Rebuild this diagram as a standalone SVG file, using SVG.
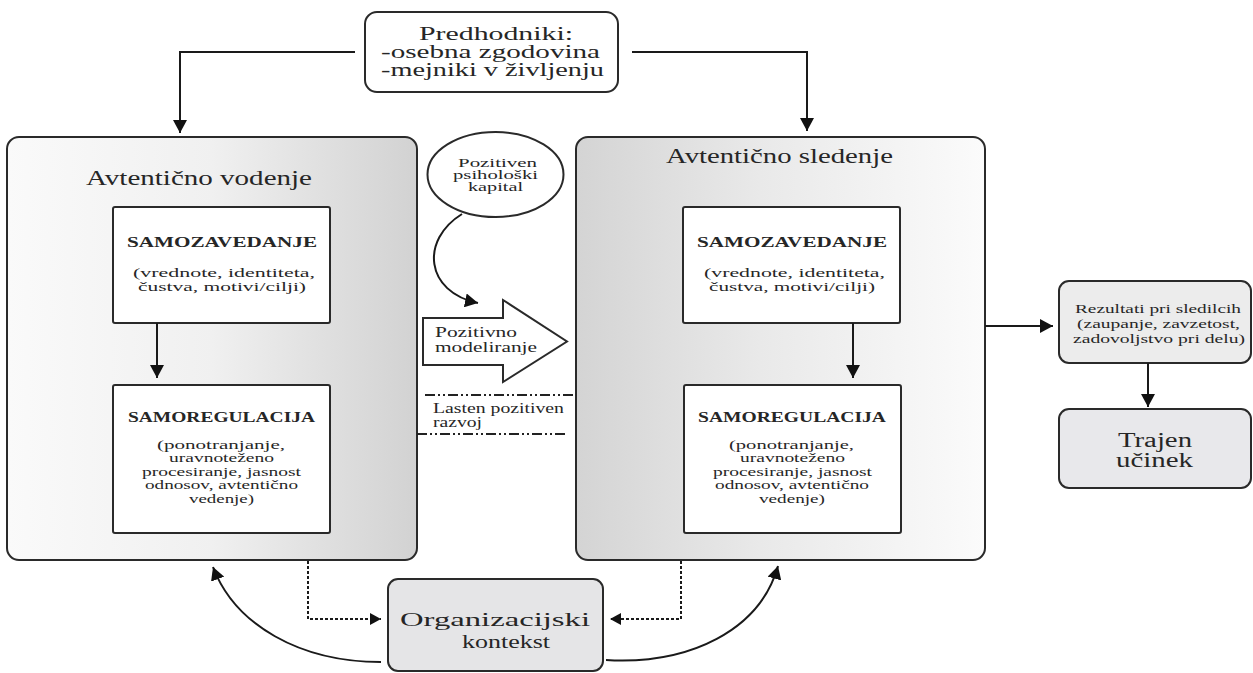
<svg xmlns="http://www.w3.org/2000/svg" width="1253" height="673" viewBox="0 0 1253 673">
<style>
.t{font-family:"Liberation Serif","Times New Roman",serif;fill:#262626}
.b{font-weight:bold}
.box{stroke:#2a2a2a;stroke-width:2}
.ln{fill:none;stroke:#1a1a1a;stroke-width:2}
.dot{fill:none;stroke:#1a1a1a;stroke-width:2;stroke-dasharray:3 2}
.dd{fill:none;stroke:#222;stroke-width:1.8;stroke-dasharray:10 3 2 3 2 3}
</style>
<defs>
<marker id="ah" markerUnits="userSpaceOnUse" markerWidth="14" markerHeight="14" refX="13" refY="7" orient="auto"><path d="M0,0 L13,7 L0,14 z" fill="#111"/></marker>
<marker id="ahs" markerUnits="userSpaceOnUse" markerWidth="12" markerHeight="12" refX="11" refY="6" orient="auto"><path d="M0,0 L11,6 L0,12 z" fill="#111"/></marker>
<linearGradient id="gl" x1="0" y1="0" x2="1" y2="0"><stop offset="0" stop-color="#fafafa"/><stop offset="0.5" stop-color="#f0f0f0"/><stop offset="1" stop-color="#d2d2d2"/></linearGradient>
<linearGradient id="gr" x1="0" y1="0" x2="1" y2="0"><stop offset="0" stop-color="#d4d4d4"/><stop offset="0.45" stop-color="#e9e9e9"/><stop offset="1" stop-color="#fbfbfb"/></linearGradient>
</defs>

<g id="left-box">
<rect class="box" x="7" y="137" width="410" height="423" rx="12" fill="url(#gl)"/>
<text class="t" x="86" y="185" font-size="20" textLength="226" lengthAdjust="spacingAndGlyphs">Avtentično vodenje</text>
</g>
<g id="left-samozavedanje">
<rect class="box" x="113" y="207" width="217" height="116" rx="2" fill="#fff"/>
<text class="t b" x="127" y="247" font-size="15" textLength="190" lengthAdjust="spacingAndGlyphs">SAMOZAVEDANJE</text>
<text class="t" x="133" y="277" font-size="13" textLength="182" lengthAdjust="spacingAndGlyphs">(vrednote, identiteta,</text>
<text class="t" x="138" y="291" font-size="13" textLength="168" lengthAdjust="spacingAndGlyphs">čustva, motivi/cilji)</text>
</g>
<g id="left-samoregulacija">
<rect class="box" x="113" y="385" width="217" height="148" rx="2" fill="#fff"/>
<text class="t b" x="128" y="422" font-size="15" textLength="187" lengthAdjust="spacingAndGlyphs">SAMOREGULACIJA</text>
<text class="t" x="157" y="449" font-size="13" textLength="128" lengthAdjust="spacingAndGlyphs">(ponotranjanje,</text>
<text class="t" x="169" y="462" font-size="13" textLength="105" lengthAdjust="spacingAndGlyphs">uravnoteženo</text>
<text class="t" x="142" y="475.5" font-size="13" textLength="159" lengthAdjust="spacingAndGlyphs">procesiranje, jasnost</text>
<text class="t" x="145" y="489" font-size="13" textLength="153" lengthAdjust="spacingAndGlyphs">odnosov, avtentično</text>
<text class="t" x="189" y="503" font-size="13" textLength="65" lengthAdjust="spacingAndGlyphs">vedenje)</text>
</g>

<g id="right-box">
<rect class="box" x="576" y="137" width="409" height="423" rx="12" fill="url(#gr)"/>
<text class="t" x="666" y="163" font-size="20" textLength="227" lengthAdjust="spacingAndGlyphs">Avtentično sledenje</text>
</g>
<g id="right-samozavedanje">
<rect class="box" x="683" y="207" width="217" height="116" rx="2" fill="#fff"/>
<text class="t b" x="697" y="247" font-size="15" textLength="190" lengthAdjust="spacingAndGlyphs">SAMOZAVEDANJE</text>
<text class="t" x="704" y="277" font-size="13" textLength="181" lengthAdjust="spacingAndGlyphs">(vrednote, identiteta,</text>
<text class="t" x="709" y="291" font-size="13" textLength="166" lengthAdjust="spacingAndGlyphs">čustva, motivi/cilji)</text>
</g>
<g id="right-samoregulacija">
<rect class="box" x="684" y="385" width="217" height="148" rx="2" fill="#fff"/>
<text class="t b" x="698" y="422" font-size="15" textLength="188" lengthAdjust="spacingAndGlyphs">SAMOREGULACIJA</text>
<text class="t" x="729" y="449" font-size="13" textLength="125" lengthAdjust="spacingAndGlyphs">(ponotranjanje,</text>
<text class="t" x="740" y="462" font-size="13" textLength="105" lengthAdjust="spacingAndGlyphs">uravnoteženo</text>
<text class="t" x="713" y="475.5" font-size="13" textLength="159" lengthAdjust="spacingAndGlyphs">procesiranje, jasnost</text>
<text class="t" x="715" y="489" font-size="13" textLength="154" lengthAdjust="spacingAndGlyphs">odnosov, avtentično</text>
<text class="t" x="759" y="503" font-size="13" textLength="66" lengthAdjust="spacingAndGlyphs">vedenje)</text>
</g>

<g id="predhodniki">
<rect class="box" x="365" y="12" width="253" height="80" rx="12" fill="#fff"/>
<text class="t" x="419" y="40" font-size="18" textLength="154" lengthAdjust="spacingAndGlyphs">Predhodniki:</text>
<text class="t" x="381" y="58" font-size="18" textLength="219" lengthAdjust="spacingAndGlyphs">-osebna zgodovina</text>
<text class="t" x="381" y="76" font-size="18" textLength="223" lengthAdjust="spacingAndGlyphs">-mejniki v življenju</text>
</g>

<g id="kapital">
<ellipse class="box" cx="495.5" cy="174.5" rx="68" ry="42.5" fill="#fff"/>
<text class="t" x="458" y="167" font-size="11.5" textLength="79" lengthAdjust="spacingAndGlyphs">Pozitiven</text>
<text class="t" x="453" y="179" font-size="11.5" textLength="85" lengthAdjust="spacingAndGlyphs">psihološki</text>
<text class="t" x="468" y="191" font-size="11.5" textLength="55" lengthAdjust="spacingAndGlyphs">kapital</text>
</g>

<g id="modeliranje">
<polygon class="box" points="423,318 503,318 503,300 567,341.5 503,382 503,365 423,365" fill="#fff"/>
<text class="t" x="435" y="337" font-size="15" textLength="82" lengthAdjust="spacingAndGlyphs">Pozitivno</text>
<text class="t" x="435" y="352" font-size="15" textLength="102" lengthAdjust="spacingAndGlyphs">modeliranje</text>
</g>

<g id="razvoj">
<text class="t" x="433" y="413" font-size="14" textLength="131" lengthAdjust="spacingAndGlyphs">Lasten pozitiven</text>
<text class="t" x="433" y="427" font-size="14" textLength="49" lengthAdjust="spacingAndGlyphs">razvoj</text>
</g>

<g id="rezultati">
<rect class="box" x="1059" y="281" width="192" height="82" rx="10" fill="#ececec"/>
<text class="t" x="1075" y="313" font-size="13" textLength="166" lengthAdjust="spacingAndGlyphs">Rezultati pri sledilcih</text>
<text class="t" x="1077" y="328" font-size="13" textLength="163" lengthAdjust="spacingAndGlyphs">(zaupanje, zavzetost,</text>
<text class="t" x="1073" y="343" font-size="13" textLength="172" lengthAdjust="spacingAndGlyphs">zadovoljstvo pri delu)</text>
</g>

<g id="trajen">
<rect class="box" x="1059" y="409" width="192" height="79" rx="10" fill="#e8e8eb"/>
<text class="t" x="1118" y="447" font-size="20" textLength="74" lengthAdjust="spacingAndGlyphs">Trajen</text>
<text class="t" x="1116" y="467" font-size="20" textLength="77" lengthAdjust="spacingAndGlyphs">učinek</text>
</g>

<g id="kontekst">
<rect class="box" x="388" y="579" width="215" height="92" rx="10" fill="#e5e5e7"/>
<text class="t" x="400" y="626" font-size="19" textLength="190" lengthAdjust="spacingAndGlyphs">Organizacijski</text>
<text class="t" x="462" y="648" font-size="19" textLength="88" lengthAdjust="spacingAndGlyphs">kontekst</text>
</g>

<g id="connectors">
<path class="ln" d="M355,52 H180 V133" marker-end="url(#ah)"/>
<path class="ln" d="M632,52 H807 V131" marker-end="url(#ah)"/>
<path class="ln" d="M157,323 V378" marker-end="url(#ah)"/>
<path class="ln" d="M853,323 V378" marker-end="url(#ah)"/>
<path class="ln" d="M985,326 H1053" marker-end="url(#ah)"/>
<path class="ln" d="M1148,363 V407" marker-end="url(#ah)"/>
<path class="ln" d="M462,214 C420,240 425,292 478,303" marker-end="url(#ah)"/>
<path class="dd" d="M425,395 H575"/>
<path class="dd" d="M417,434 H568"/>
<path class="dot" d="M308,561 V619 H381" marker-end="url(#ahs)"/>
<path class="dot" d="M681,561 V619 H610" marker-end="url(#ahs)"/>
<path class="ln" d="M381,662 C300,662 235,625 213,567" marker-end="url(#ah)"/>
<path class="ln" d="M606,660 C690,665 760,630 778,566" marker-end="url(#ah)"/>
</g>
</svg>
